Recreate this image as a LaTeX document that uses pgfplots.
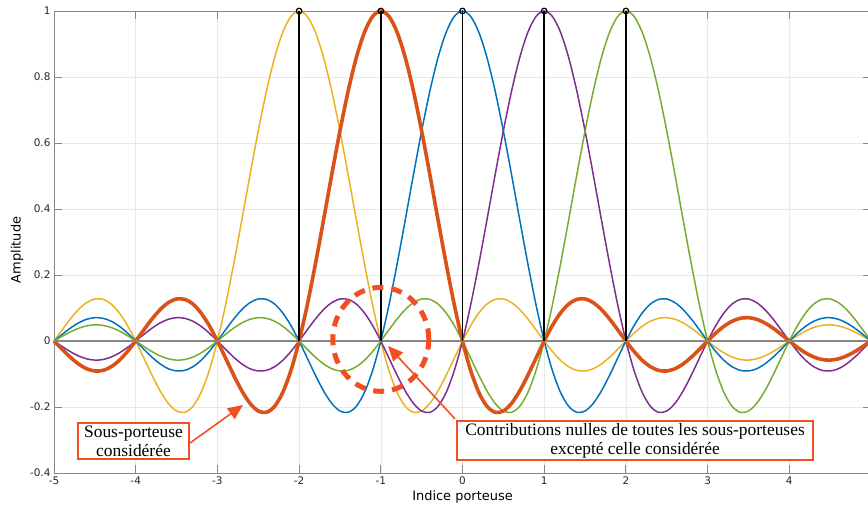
\documentclass[border=0pt]{standalone}
\usepackage{fontspec}
\setmainfont{DejaVu Sans}
\newfontfamily\timesfont{Liberation Serif}
\usepackage{pgfplots}
\pgfplotsset{compat=1.18}
\usepackage{pgfplotstable}
\usetikzlibrary{arrows.meta}
\definecolor{mblue}{rgb}{0,0.447,0.741}
\definecolor{morange}{rgb}{0.850,0.325,0.098}
\definecolor{myellow}{rgb}{0.929,0.694,0.125}
\definecolor{mpurple}{rgb}{0.494,0.184,0.556}
\definecolor{mgreen}{rgb}{0.466,0.674,0.188}
\definecolor{annot}{RGB}{242,78,34}
\definecolor{axgray}{RGB}{135,135,135}
\definecolor{tickgray}{RGB}{38,38,38}

\pgfplotstableread{
x ym2 ym1 y0 y1 y2
-5.0 0 0 0 0 0
-4.9 0.0339 -0.0252 0.0201 -0.0167 0.0143
-4.8 0.0668 -0.0492 0.0390 -0.0323 0.0275
-4.7 0.0954 -0.0696 0.0548 -0.0452 0.0384
-4.6 0.1164 -0.0841 0.0658 -0.0541 0.0459
-4.5 0.1273 -0.0909 0.0707 -0.0579 0.0490
-4.4 0.1261 -0.0890 0.0688 -0.0561 0.0473
-4.3 0.1120 -0.0780 0.0599 -0.0486 0.0409
-4.2 0.0850 -0.0585 0.0446 -0.0360 0.0302
-4.1 0.0468 -0.0317 0.0240 -0.0193 0.0161
-4.0 0 0 0 0 0
-3.9 -0.0518 0.0339 -0.0252 0.0201 -0.0167
-3.8 -0.1039 0.0668 -0.0492 0.0390 -0.0323
-3.7 -0.1515 0.0954 -0.0696 0.0548 -0.0452
-3.6 -0.1892 0.1164 -0.0841 0.0658 -0.0541
-3.5 -0.2122 0.1273 -0.0909 0.0707 -0.0579
-3.4 -0.2162 0.1261 -0.0890 0.0688 -0.0561
-3.3 -0.1981 0.1120 -0.0780 0.0599 -0.0486
-3.2 -0.1559 0.0850 -0.0585 0.0446 -0.0360
-3.1 -0.0894 0.0468 -0.0317 0.0240 -0.0193
-3.0 0 0 0 0 0
-2.9 0.1093 -0.0518 0.0339 -0.0252 0.0201
-2.8 0.2339 -0.1039 0.0668 -0.0492 0.0390
-2.7 0.3679 -0.1515 0.0954 -0.0696 0.0548
-2.6 0.5046 -0.1892 0.1164 -0.0841 0.0658
-2.5 0.6366 -0.2122 0.1273 -0.0909 0.0707
-2.4 0.7568 -0.2162 0.1261 -0.0890 0.0688
-2.3 0.8584 -0.1981 0.1120 -0.0780 0.0599
-2.2 0.9355 -0.1559 0.0850 -0.0585 0.0446
-2.1 0.9836 -0.0894 0.0468 -0.0317 0.0240
-2.0 1 0 0 0 0
-1.9 0.9836 0.1093 -0.0518 0.0339 -0.0252
-1.8 0.9355 0.2339 -0.1039 0.0668 -0.0492
-1.7 0.8584 0.3679 -0.1515 0.0954 -0.0696
-1.6 0.7568 0.5046 -0.1892 0.1164 -0.0841
-1.5 0.6366 0.6366 -0.2122 0.1273 -0.0909
-1.4 0.5046 0.7568 -0.2162 0.1261 -0.0890
-1.3 0.3679 0.8584 -0.1981 0.1120 -0.0780
-1.2 0.2339 0.9355 -0.1559 0.0850 -0.0585
-1.1 0.1093 0.9836 -0.0894 0.0468 -0.0317
-1.0 0 1 0 0 0
-0.9 -0.0894 0.9836 0.1093 -0.0518 0.0339
-0.8 -0.1559 0.9355 0.2339 -0.1039 0.0668
-0.7 -0.1981 0.8584 0.3679 -0.1515 0.0954
-0.6 -0.2162 0.7568 0.5046 -0.1892 0.1164
-0.5 -0.2122 0.6366 0.6366 -0.2122 0.1273
-0.4 -0.1892 0.5046 0.7568 -0.2162 0.1261
-0.3 -0.1515 0.3679 0.8584 -0.1981 0.1120
-0.2 -0.1039 0.2339 0.9355 -0.1559 0.0850
-0.1 -0.0518 0.1093 0.9836 -0.0894 0.0468
0.0 0 0 1 0 0
0.1 0.0468 -0.0894 0.9836 0.1093 -0.0518
0.2 0.0850 -0.1559 0.9355 0.2339 -0.1039
0.3 0.1120 -0.1981 0.8584 0.3679 -0.1515
0.4 0.1261 -0.2162 0.7568 0.5046 -0.1892
0.5 0.1273 -0.2122 0.6366 0.6366 -0.2122
0.6 0.1164 -0.1892 0.5046 0.7568 -0.2162
0.7 0.0954 -0.1515 0.3679 0.8584 -0.1981
0.8 0.0668 -0.1039 0.2339 0.9355 -0.1559
0.9 0.0339 -0.0518 0.1093 0.9836 -0.0894
1.0 0 0 0 1 0
1.1 -0.0317 0.0468 -0.0894 0.9836 0.1093
1.2 -0.0585 0.0850 -0.1559 0.9355 0.2339
1.3 -0.0780 0.1120 -0.1981 0.8584 0.3679
1.4 -0.0890 0.1261 -0.2162 0.7568 0.5046
1.5 -0.0909 0.1273 -0.2122 0.6366 0.6366
1.6 -0.0841 0.1164 -0.1892 0.5046 0.7568
1.7 -0.0696 0.0954 -0.1515 0.3679 0.8584
1.8 -0.0492 0.0668 -0.1039 0.2339 0.9355
1.9 -0.0252 0.0339 -0.0518 0.1093 0.9836
2.0 0 0 0 0 1
2.1 0.0240 -0.0317 0.0468 -0.0894 0.9836
2.2 0.0446 -0.0585 0.0850 -0.1559 0.9355
2.3 0.0599 -0.0780 0.1120 -0.1981 0.8584
2.4 0.0688 -0.0890 0.1261 -0.2162 0.7568
2.5 0.0707 -0.0909 0.1273 -0.2122 0.6366
2.6 0.0658 -0.0841 0.1164 -0.1892 0.5046
2.7 0.0548 -0.0696 0.0954 -0.1515 0.3679
2.8 0.0390 -0.0492 0.0668 -0.1039 0.2339
2.9 0.0201 -0.0252 0.0339 -0.0518 0.1093
3.0 0 0 0 0 0
3.1 -0.0193 0.0240 -0.0317 0.0468 -0.0894
3.2 -0.0360 0.0446 -0.0585 0.0850 -0.1559
3.3 -0.0486 0.0599 -0.0780 0.1120 -0.1981
3.4 -0.0561 0.0688 -0.0890 0.1261 -0.2162
3.5 -0.0579 0.0707 -0.0909 0.1273 -0.2122
3.6 -0.0541 0.0658 -0.0841 0.1164 -0.1892
3.7 -0.0452 0.0548 -0.0696 0.0954 -0.1515
3.8 -0.0323 0.0390 -0.0492 0.0668 -0.1039
3.9 -0.0167 0.0201 -0.0252 0.0339 -0.0518
4.0 0 0 0 0 0
4.1 0.0161 -0.0193 0.0240 -0.0317 0.0468
4.2 0.0302 -0.0360 0.0446 -0.0585 0.0850
4.3 0.0409 -0.0486 0.0599 -0.0780 0.1120
4.4 0.0473 -0.0561 0.0688 -0.0890 0.1261
4.5 0.0490 -0.0579 0.0707 -0.0909 0.1273
4.6 0.0459 -0.0541 0.0658 -0.0841 0.1164
4.7 0.0384 -0.0452 0.0548 -0.0696 0.0954
4.8 0.0275 -0.0323 0.0390 -0.0492 0.0668
4.9 0.0143 -0.0167 0.0201 -0.0252 0.0339
5.0 0 0 0 0 0
}\sincdata

\begin{document}
\begin{tikzpicture}
\begin{axis}[
  scale only axis, width=817bp, height=462bp,
  xmin=-5, xmax=5, ymin=-0.4, ymax=1,
  clip=false,
  xtick={-5,-4,-3,-2,-1,0,1,2,3,4},
  xticklabels={-5,-4,-3,-2,-1,0,1,2,3,4},
  ytick={-0.4,-0.2,0,0.2,0.4,0.6,0.8,1},
  yticklabels={-0.4,-0.2,0,0.2,0.4,0.6,0.8,1},
  grid=major,
  major grid style={draw=black!9, line width=0.6bp},
  axis line style={draw=axgray, line width=0.9bp},
  tick style={draw=axgray, line width=0.9bp},
  tick align=inside, major tick length=8bp,
  ticklabel style={font=\fontsize{10.5}{12}\selectfont, text=tickgray},
  xlabel={Indice porteuse}, ylabel={Amplitude},
  label style={font=\fontsize{13}{15}\selectfont, text=black},
  xlabel style={at={(axis description cs:0.5,-0.052)}, anchor=center},
  ylabel style={at={(axis description cs:-0.0453,0.483)}, anchor=center},
]
\coordinate (SW) at (rel axis cs:0,0);
\coordinate (NE) at (rel axis cs:1,1);
\addplot[myellow, line width=1.5bp, smooth] table[x=x,y=ym2]{\sincdata};
\addplot[mblue, line width=1.5bp, smooth] table[x=x,y=y0]{\sincdata};
\addplot[mpurple, line width=1.5bp, smooth] table[x=x,y=y1]{\sincdata};
\addplot[mgreen, line width=1.5bp, smooth] table[x=x,y=y2]{\sincdata};
\addplot[morange, line width=3.6bp, smooth] table[x=x,y=ym1]{\sincdata};
\addplot[axgray, line width=1.2bp] coordinates {(-5,0) (5,0)};
\addplot[black, line width=1.8bp, ycomb, mark=o, mark size=2.8bp, mark options={line width=1.2bp, draw=black}] coordinates {(-2,1) (-1,1) (0,1) (1,1) (2,1)};

\draw[annot, line width=5bp, dash pattern=on 11bp off 8bp] (axis cs:-1,0.005) ellipse [x radius=48bp, y radius=52bp];
\draw[annot, line width=1.6bp, -{Triangle[length=15bp,width=13bp]}] (axis cs:-3.335,-0.309) -- (axis cs:-2.687,-0.194);
\draw[annot, line width=1.6bp, -{Triangle[length=15bp,width=13bp]}] (axis cs:-0.092,-0.236) -- (axis cs:-0.912,-0.015);
\node[draw=annot, line width=2bp, fill=white, align=center, inner xsep=6.5bp, inner ysep=2.5bp,
      font=\timesfont\fontsize{17.5}{19}\selectfont] at (axis cs:-4.027,-0.303) {Sous-porteuse\\considérée};
\node[draw=annot, line width=2bp, fill=white, align=center, inner xsep=8bp, inner ysep=2.5bp,
      font=\timesfont\fontsize{17.5}{19}\selectfont] at (axis cs:2.112,-0.3015) {Contributions nulles de toutes les sous-porteuses\\excepté celle considérée};
\end{axis}
\pgfresetboundingbox
\useasboundingbox ([xshift=-54bp,yshift=-33bp]SW) rectangle ([xshift=-3bp,yshift=11bp]NE);
\end{tikzpicture}
\end{document}
